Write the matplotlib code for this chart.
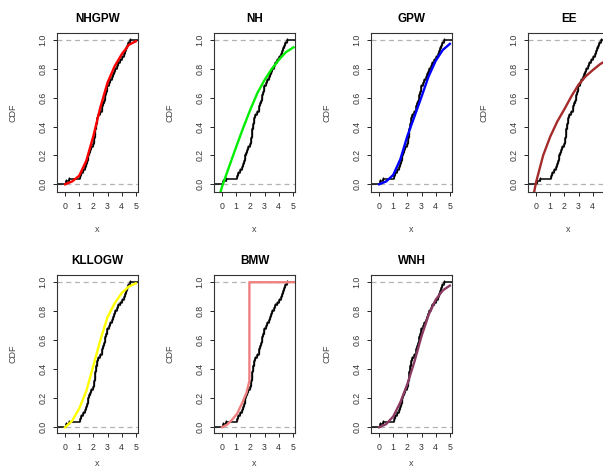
import matplotlib
matplotlib.use("Agg")
import matplotlib.pyplot as plt
import numpy as np

plt.rcParams["font.family"] = ["Liberation Sans", "DejaVu Sans"]

sample = [0.05, 0.30, 1.05, 1.12, 1.25, 1.38, 1.46, 1.54, 1.60, 1.64,
          1.68, 1.75, 1.85, 1.98, 2.02, 2.05, 2.08, 2.10, 2.13, 2.16,
          2.19, 2.22, 2.25, 2.35, 2.48, 2.60, 2.64, 2.68, 2.72, 2.80,
          2.84, 2.88, 2.93, 2.97, 3.08, 3.20, 3.28, 3.36, 3.44, 3.55,
          3.64, 3.75, 3.90, 4.05, 4.15, 4.25, 4.32, 4.40, 4.47, 4.62]

# fitted CDFs, read at x = 0, 0.5, ..., 5
grid = [0, 0.5, 1.0, 1.5, 2.0, 2.5, 3.0, 3.5, 4.0, 4.5, 5.0]
nhgpw = [0, 0.02, 0.06, 0.164, 0.335, 0.536, 0.704, 0.817, 0.90, 0.965, 0.99]
gpw = [0, 0.02, 0.065, 0.173, 0.335, 0.47, 0.607, 0.747, 0.855, 0.93, 0.972]
kllogw = [0, 0.045, 0.13, 0.25, 0.425, 0.605, 0.76, 0.855, 0.925, 0.97, 0.993]
wnh = [0, 0.022, 0.075, 0.172, 0.299, 0.454, 0.629, 0.776, 0.88, 0.944, 0.977]

nh_x = [-0.1, 0, 0.5, 1.0, 1.5, 2.0, 2.5, 3.0, 3.5, 4.0, 4.5, 5.05]
nh = [-0.05, -0.015, 0.123, 0.26, 0.393, 0.518, 0.633, 0.722, 0.797, 0.86, 0.914, 0.948]

ee_x = [-0.15, 0, 0.5, 1.0, 1.5, 2.0, 2.5, 3.0, 3.5, 4.0, 4.5, 5.0]
ee = [-0.06, 0.015, 0.20, 0.33, 0.435, 0.52, 0.61, 0.69, 0.747, 0.79, 0.83, 0.86]

bmw_x = [0, 0.35, 0.71, 1.06, 1.42, 1.72, 1.93, 1.93, 5.15]
bmw = [0, 0.018, 0.053, 0.094, 0.168, 0.237, 0.32, 1.0, 1.0]

panels = [
    ("NHGPW", grid, nhgpw, "#FF0000"),
    ("NH", nh_x, nh, "#00EE00"),
    ("GPW", grid, gpw, "#0000FF"),
    ("EE", ee_x, ee, "#A52A2A"),
    ("KLLOGW", grid, kllogw, "#FFFF00"),
    ("BMW", bmw_x, bmw, "#F08080"),
    ("WNH", grid, wnh, "#8B3A62"),
]

W, H = 603, 470
col_left = [57, 214, 371, 528]
# (box top px, box bottom px, ylim, xlabel offset)
rows = [(33, 192, (-0.053, 1.047), -0.21), (275, 433, (-0.039, 1.05), -0.165)]
box_w = 81

fig = plt.figure(figsize=(W / 100, H / 100), dpi=100)

n = len(sample)
for i, (name, xs, ys, col) in enumerate(panels):
    top, bot, ylim, xl_off = rows[i // 4]
    left = col_left[i % 4]
    ax = fig.add_axes([left / W, 1 - bot / H, box_w / W, (bot - top) / H])
    ax.set_xlim(-0.57, 5.15)
    ax.set_ylim(*ylim)
    lo, hi = ax.get_xlim()

    ax.axhline(0, color="#B3B3B3", ls=(0, (4, 3)), lw=0.9)
    ax.axhline(1, color="#B3B3B3", ls=(0, (4, 3)), lw=0.9)

    # empirical CDF
    ex = [lo] + sample + [hi]
    ey = [0] + list(np.arange(1, n + 1) / n) + [1]
    ax.step(ex, ey, where="post", color="black", lw=1.1)
    ax.plot(sample, np.arange(1, n + 1) / n, "k|", ms=3, mew=0.9)

    # fitted CDF
    ax.plot(xs, ys, color=col, lw=1.7)

    ax.set_title(name, fontsize=8.5, fontweight="bold", pad=8)
    ax.set_xticks(range(6))
    ax.set_yticks([0, 0.2, 0.4, 0.6, 0.8, 1.0])
    ax.set_yticklabels(["0.0", "0.2", "0.4", "0.6", "0.8", "1.0"],
                       rotation=90, va="center")
    ax.tick_params(labelsize=6.3, length=3, width=0.6, pad=4,
                   labelcolor="#333333")
    ax.set_xlabel("x", fontsize=6.5, color="#444444")
    ax.set_ylabel("CDF", fontsize=6.5, color="#444444")
    ax.xaxis.set_label_coords(0.5, xl_off)
    ax.yaxis.set_label_coords(-0.49, 0.5)
    for s in ax.spines.values():
        s.set_linewidth(0.8)
        s.set_color("#333333")

fig.savefig("out.png", dpi=100)
